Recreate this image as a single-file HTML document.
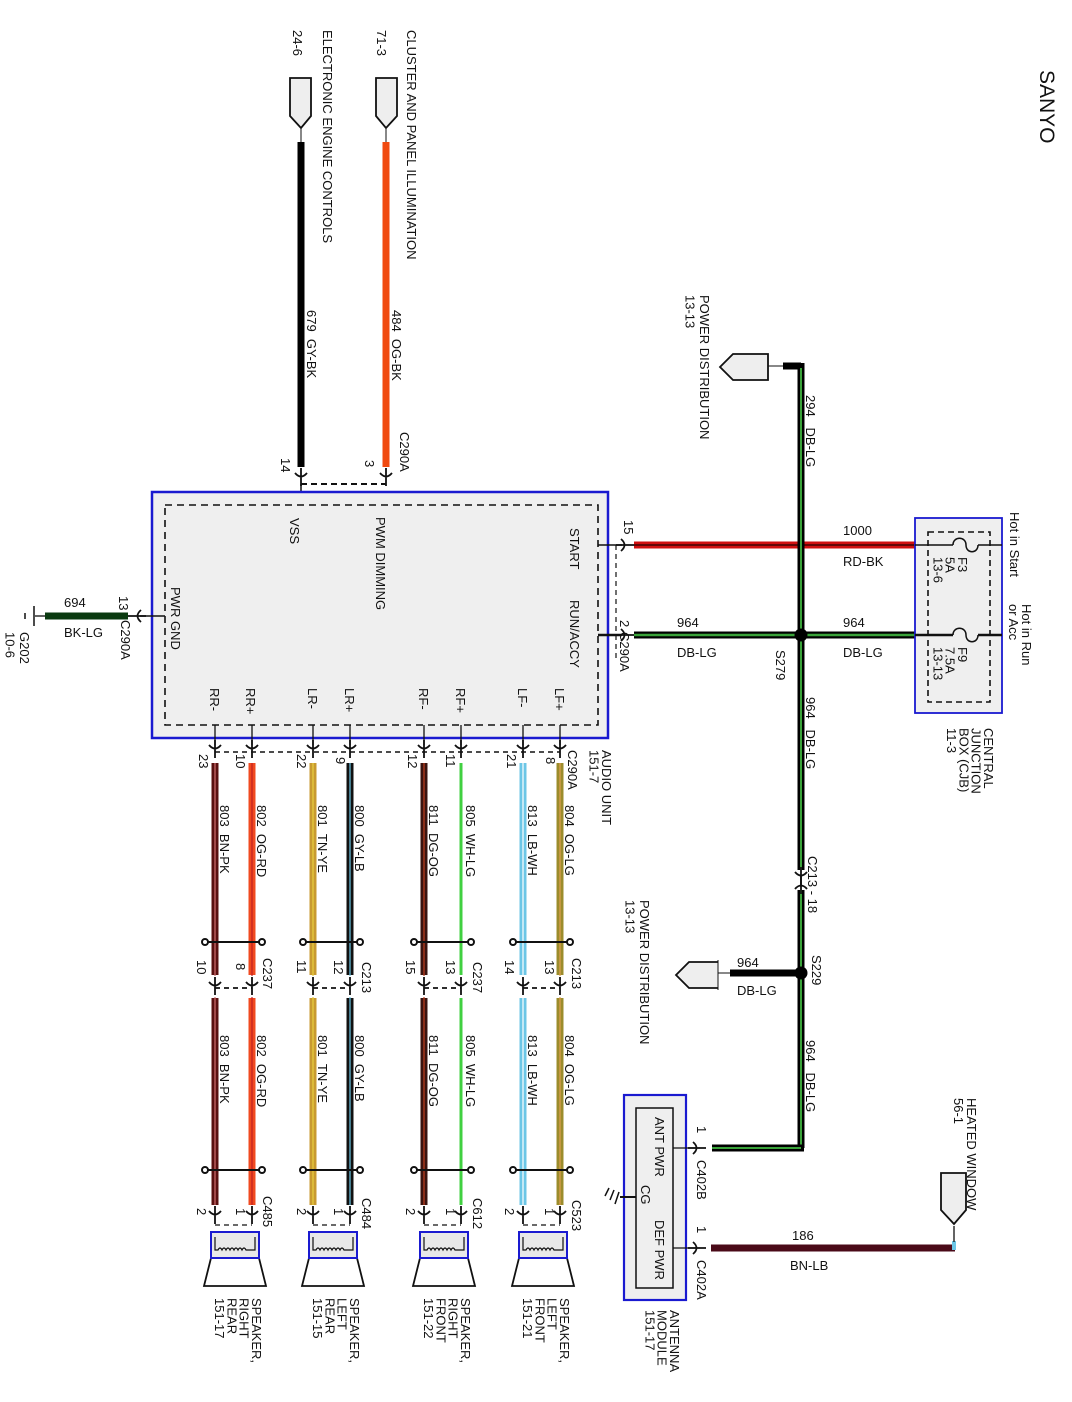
<!DOCTYPE html>
<html><head><meta charset="utf-8"><style>
html,body{margin:0;padding:0;background:#fff}
svg{display:block}
text{font-family:"Liberation Sans",sans-serif;font-size:13px;fill:#111}
</style></head><body>
<svg width="1072" height="1402" viewBox="0 0 1072 1402" xmlns="http://www.w3.org/2000/svg">
<defs>
<g id="cd"><path d="M-6,-5 Q0,2 6,-5 M0,-10 V8" stroke="#111" stroke-width="1.8" fill="none"/></g>
<g id="cr"><path d="M-5,-6 Q2,0 -5,6 M-10,0 H8" stroke="#111" stroke-width="1.8" fill="none"/></g>
<g id="cl"><path d="M5,-6 Q-2,0 5,6 M10,0 H-8" stroke="#111" stroke-width="1.8" fill="none"/></g>
</defs>

<text transform="translate(1040,70) rotate(90)" style="font-size:21px">SANYO</text>

<path d="M376,78 H397 V116 L386,128 L376,116 Z" fill="#eee" stroke="#111" stroke-width="1.8"/>
<path d="M290,78 H311 V116 L301,128 L290,116 Z" fill="#eee" stroke="#111" stroke-width="1.8"/>
<line x1="386" y1="128" x2="386" y2="142" stroke="#111"/>
<line x1="301" y1="128" x2="301" y2="142" stroke="#111"/>
<line x1="386" y1="142" x2="386" y2="467" stroke="#f04a10" stroke-width="7"/>
<line x1="301" y1="142" x2="301" y2="467" stroke="#000" stroke-width="7"/>
<text transform="translate(407,30) rotate(90)">CLUSTER AND PANEL ILLUMINATION</text>
<text transform="translate(377,30) rotate(90)">71-3</text>
<text transform="translate(323,30) rotate(90)">ELECTRONIC ENGINE CONTROLS</text>
<text transform="translate(293,30) rotate(90)">24-6</text>
<text transform="translate(392,310) rotate(90)">484&#160;&#160;OG-BK</text>
<text transform="translate(307,310) rotate(90)">679&#160;&#160;GY-BK</text>
<text transform="translate(400,432) rotate(90)">C290A</text>
<text transform="translate(365,460) rotate(90)">3</text>
<text transform="translate(281,458) rotate(90)">14</text>
<use href="#cd" x="386" y="478"/>
<use href="#cd" x="301" y="478"/>
<line x1="301" y1="484" x2="386" y2="484" stroke="#111" stroke-width="2" stroke-dasharray="6,4"/>
<line x1="301" y1="484" x2="301" y2="505" stroke="#111" stroke-width="1.5"/>

<rect x="152" y="492" width="456" height="246" fill="#efefef" stroke="#1a1ad0" stroke-width="2.5"/>
<rect x="165" y="505" width="433" height="220" fill="none" stroke="#111" stroke-width="1.6" stroke-dasharray="7,5"/>
<text transform="translate(570,528) rotate(90)">START</text>
<text transform="translate(570,600) rotate(90)">RUN/ACCY</text>
<text transform="translate(376,517) rotate(90)">PWM DIMMING</text>
<text transform="translate(290,518) rotate(90)">VSS</text>
<text transform="translate(171,587) rotate(90)">PWR GND</text>
<text transform="translate(555,688) rotate(90)">LF+</text>
<text transform="translate(518,688) rotate(90)">LF-</text>
<text transform="translate(456,688) rotate(90)">RF+</text>
<text transform="translate(419,688) rotate(90)">RF-</text>
<text transform="translate(345,688) rotate(90)">LR+</text>
<text transform="translate(308,688) rotate(90)">LR-</text>
<text transform="translate(246,688) rotate(90)">RR+</text>
<text transform="translate(210,688) rotate(90)">RR-</text>

<line x1="165" y1="616" x2="140" y2="616" stroke="#111" stroke-width="1.5"/>
<use href="#cl" x="136" y="616"/>
<line x1="128" y1="616" x2="45" y2="616" stroke="#0a3a10" stroke-width="7"/>
<line x1="45" y1="616" x2="35" y2="616" stroke="#111" stroke-width="1.3"/>
<line x1="34" y1="606" x2="34" y2="626" stroke="#111" stroke-width="1.5"/>
<line x1="25" y1="613" x2="25" y2="619" stroke="#111" stroke-width="1.5"/>
<text x="64" y="607">694</text>
<text x="64" y="637">BK-LG</text>
<text transform="translate(119,596) rotate(90)">13</text>
<text transform="translate(121,620) rotate(90)">C290A</text>
<text transform="translate(20,632) rotate(90)"><tspan x="0">G202</tspan><tspan x="0" dy="1.1em">10-6</tspan></text>

<line x1="598" y1="545" x2="622" y2="545" stroke="#111" stroke-width="1.5"/>
<use href="#cr" x="626" y="545"/>
<line x1="598" y1="635" x2="622" y2="635" stroke="#111" stroke-width="2.5"/>
<use href="#cr" x="626" y="635"/>
<line x1="616" y1="545" x2="616" y2="660" stroke="#111" stroke-width="1.2" stroke-dasharray="5,4"/>
<text transform="translate(624,520) rotate(90)">15</text>
<text transform="translate(620,620) rotate(90)">2</text>
<text transform="translate(620,632) rotate(90)">C290A</text>
<line x1="634" y1="545" x2="915" y2="545" stroke="#d01010" stroke-width="7"/>
<line x1="634" y1="545" x2="915" y2="545" stroke="#200" stroke-width="1.2"/>
<line x1="634" y1="635" x2="915" y2="635" stroke="#000" stroke-width="7"/>
<line x1="634" y1="635" x2="915" y2="635" stroke="#3aa33a" stroke-width="2.5"/>
<text x="843" y="535">1000</text>
<text x="843" y="566">RD-BK</text>
<text x="677" y="627">964</text>
<text x="677" y="657">DB-LG</text>
<text x="843" y="627">964</text>
<text x="843" y="657">DB-LG</text>

<line x1="783" y1="366" x2="801" y2="366" stroke="#000" stroke-width="7"/>
<line x1="801" y1="363" x2="801" y2="870" stroke="#000" stroke-width="7"/>
<line x1="801" y1="368" x2="801" y2="870" stroke="#3aa33a" stroke-width="2"/>
<line x1="801" y1="890" x2="801" y2="1148" stroke="#000" stroke-width="7"/>
<line x1="801" y1="890" x2="801" y2="1145" stroke="#3aa33a" stroke-width="2"/>
<line x1="804" y1="1148" x2="712" y2="1148" stroke="#000" stroke-width="7"/>
<line x1="801" y1="1148" x2="712" y2="1148" stroke="#3aa33a" stroke-width="2"/>
<path d="M768,354 L733,354 L720,367 L733,380 L768,380 Z" fill="#eee" stroke="#111" stroke-width="1.8"/>
<line x1="768" y1="366" x2="783" y2="366" stroke="#111"/>
<text transform="translate(700,295) rotate(90)"><tspan x="0">POWER DISTRIBUTION</tspan><tspan x="0" dy="1.1em">13-13</tspan></text>
<text transform="translate(806,395) rotate(90)">294&#160;&#160;&#160;DB-LG</text>
<circle cx="801" cy="635" r="6.5" fill="#000"/>
<text transform="translate(776,650) rotate(90)">S279</text>
<text transform="translate(806,697) rotate(90)">964&#160;&#160;&#160;DB-LG</text>
<use href="#cd" x="801" y="877"/>
<g transform="translate(801,884) rotate(180)"><use href="#cd"/></g>
<text transform="translate(808,856) rotate(90)">C213 - 18</text>
<circle cx="801" cy="973" r="6.5" fill="#000"/>
<line x1="801" y1="973" x2="730" y2="973" stroke="#000" stroke-width="7"/>
<line x1="730" y1="973" x2="718" y2="973" stroke="#111"/>
<path d="M718,962 L689,962 L676,975 L689,988 L718,988" fill="#eee" stroke="#111" stroke-width="1.8"/>
<line x1="718" y1="960" x2="718" y2="990" stroke="#111"/>
<text x="737" y="967">964</text>
<text x="737" y="995">DB-LG</text>
<text transform="translate(812,955) rotate(90)">S229</text>
<text transform="translate(640,900) rotate(90)"><tspan x="0">POWER DISTRIBUTION</tspan><tspan x="0" dy="1.1em">13-13</tspan></text>
<text transform="translate(806,1040) rotate(90)">964&#160;&#160;&#160;DB-LG</text>

<rect x="915" y="518" width="87" height="195" fill="#efefef" stroke="#1a1ad0" stroke-width="1.8"/>
<rect x="928" y="532" width="62" height="170" fill="none" stroke="#111" stroke-width="1.6" stroke-dasharray="6,4"/>
<line x1="915" y1="545" x2="953" y2="545" stroke="#111" stroke-width="1.5"/>
<path d="M953,545 C953,536 966,536 966,545 C966,554 978,554 978,545" stroke="#111" stroke-width="1.5" fill="none"/>
<line x1="978" y1="545" x2="1002" y2="545" stroke="#111" stroke-width="1.5"/>
<line x1="915" y1="635" x2="953" y2="635" stroke="#111" stroke-width="2.5"/>
<path d="M953,635 C953,626 966,626 966,635 C966,644 978,644 978,635" stroke="#111" stroke-width="1.5" fill="none"/>
<line x1="978" y1="635" x2="1002" y2="635" stroke="#111" stroke-width="2.5"/>
<text transform="translate(958,557) rotate(90)"><tspan x="0">F3</tspan><tspan x="0" dy="0.95em">5A</tspan><tspan x="0" dy="0.95em">13-6</tspan></text>
<text transform="translate(958,647) rotate(90)"><tspan x="0">F9</tspan><tspan x="0" dy="0.95em">7.5A</tspan><tspan x="0" dy="0.95em">13-13</tspan></text>
<text transform="translate(1010,512) rotate(90)">Hot in Start</text>
<text transform="translate(1022,604) rotate(90)"><tspan x="0">Hot in Run</tspan><tspan x="0" dy="1.0em">or Acc</tspan></text>
<text transform="translate(984,728) rotate(90)"><tspan x="0">CENTRAL</tspan><tspan x="0" dy="0.95em">JUNCTION</tspan><tspan x="0" dy="0.95em">BOX (CJB)</tspan><tspan x="0" dy="0.95em">11-3</tspan></text>

<rect x="624" y="1095" width="62" height="205" fill="#efefef" stroke="#1a1ad0" stroke-width="2.2"/>
<rect x="636" y="1108" width="37" height="180" fill="#efefef" stroke="#111" stroke-width="1.5"/>
<text transform="translate(655,1117) rotate(90)">ANT PWR</text>
<text transform="translate(641,1185) rotate(90)">CG</text>
<text transform="translate(655,1220) rotate(90)">DEF PWR</text>
<line x1="673" y1="1148" x2="700" y2="1148" stroke="#111" stroke-width="1.3"/>
<use href="#cr" x="698" y="1148"/>
<line x1="673" y1="1248" x2="700" y2="1248" stroke="#111" stroke-width="1.3"/>
<use href="#cr" x="698" y="1248"/>
<line x1="636" y1="1197" x2="620" y2="1197" stroke="#111" stroke-width="2"/>
<path d="M609,1188 L605,1196 M614,1190 L610,1200 M619,1192 L615,1204" stroke="#111" stroke-width="1.5"/>
<text transform="translate(697,1126) rotate(90)">1</text>
<text transform="translate(697,1160) rotate(90)">C402B</text>
<text transform="translate(697,1226) rotate(90)">1</text>
<text transform="translate(697,1260) rotate(90)">C402A</text>
<text transform="translate(670,1310) rotate(90)"><tspan x="0">ANTENNA</tspan><tspan x="0" dy="0.95em">MODULE</tspan><tspan x="0" dy="0.95em">151-17</tspan></text>
<line x1="711" y1="1248" x2="955" y2="1248" stroke="#4a0a18" stroke-width="7"/>
<rect x="952" y="1241" width="4" height="9" fill="#6cc6e6"/>
<line x1="954" y1="1226" x2="954" y2="1242" stroke="#111" stroke-width="1.3"/>
<path d="M941,1173 H966 V1210 L954,1224 L941,1210 Z" fill="#eee" stroke="#111" stroke-width="1.8"/>
<text x="792" y="1240">186</text>
<text x="790" y="1270">BN-LB</text>
<text transform="translate(967,1098) rotate(90)"><tspan x="0">HEATED WINDOW</tspan><tspan x="0" dy="1.0em">56-1</tspan></text>

<text transform="translate(602,750) rotate(90)"><tspan x="0">AUDIO UNIT</tspan><tspan x="0" dy="0.95em">151-7</tspan></text>
<text transform="translate(568,750) rotate(90)">C290A</text>

<line x1="215" y1="752" x2="560" y2="752" stroke="#111" stroke-width="1.5" stroke-dasharray="5,4"/>
<g stroke-width="7" fill="none">
<line x1="560" y1="763" x2="560" y2="975" stroke="#9c8c2c"/>
<line x1="523" y1="763" x2="523" y2="975" stroke="#6cc6e6"/>
<line x1="461" y1="763" x2="461" y2="975" stroke="#40d040" stroke-width="3"/>
<line x1="424" y1="763" x2="424" y2="975" stroke="#3a1410"/>
<line x1="350" y1="763" x2="350" y2="975" stroke="#111"/>
<line x1="313" y1="763" x2="313" y2="975" stroke="#c89a30"/>
<line x1="252" y1="763" x2="252" y2="975" stroke="#f04a20"/>
<line x1="215" y1="763" x2="215" y2="975" stroke="#5a1010"/>
<line x1="560" y1="998" x2="560" y2="1205" stroke="#9c8c2c"/>
<line x1="523" y1="998" x2="523" y2="1205" stroke="#6cc6e6"/>
<line x1="461" y1="998" x2="461" y2="1205" stroke="#40d040" stroke-width="3"/>
<line x1="424" y1="998" x2="424" y2="1205" stroke="#3a1410"/>
<line x1="350" y1="998" x2="350" y2="1205" stroke="#111"/>
<line x1="313" y1="998" x2="313" y2="1205" stroke="#c89a30"/>
<line x1="252" y1="998" x2="252" y2="1205" stroke="#f04a20"/>
<line x1="215" y1="998" x2="215" y2="1205" stroke="#5a1010"/>
</g>
<g stroke-width="1.2" fill="none">
<line x1="560" y1="763" x2="560" y2="1205" stroke="#e0a050"/>
<line x1="523" y1="763" x2="523" y2="1205" stroke="#fff"/>
<line x1="424" y1="763" x2="424" y2="1205" stroke="#c04020"/>
<line x1="350" y1="763" x2="350" y2="1205" stroke="#6cc6e6"/>
<line x1="313" y1="763" x2="313" y2="1205" stroke="#e8d040"/>
<line x1="252" y1="763" x2="252" y2="1205" stroke="#c02020"/>
<line x1="215" y1="763" x2="215" y2="1205" stroke="#d07070"/>
</g>
<rect x="200" y="976" width="380" height="21" fill="#fff"/>

<g stroke="#111" stroke-width="1.3">
<line x1="560" y1="725" x2="560" y2="745"/><line x1="523" y1="725" x2="523" y2="745"/>
<line x1="461" y1="725" x2="461" y2="745"/><line x1="424" y1="725" x2="424" y2="745"/>
<line x1="350" y1="725" x2="350" y2="745"/><line x1="313" y1="725" x2="313" y2="745"/>
<line x1="252" y1="725" x2="252" y2="745"/><line x1="215" y1="725" x2="215" y2="745"/>
</g>
<g>
<use href="#cd" x="560" y="750"/><use href="#cd" x="523" y="750"/><use href="#cd" x="461" y="750"/><use href="#cd" x="424" y="750"/>
<use href="#cd" x="350" y="750"/><use href="#cd" x="313" y="750"/><use href="#cd" x="252" y="750"/><use href="#cd" x="215" y="750"/>
</g>
<text transform="translate(546,757) rotate(90)">8</text>
<text transform="translate(507,754) rotate(90)">21</text>
<text transform="translate(446,754) rotate(90)">11</text>
<text transform="translate(408,754) rotate(90)">12</text>
<text transform="translate(336,757) rotate(90)">9</text>
<text transform="translate(297,754) rotate(90)">22</text>
<text transform="translate(236,754) rotate(90)">10</text>
<text transform="translate(199,754) rotate(90)">23</text>

<text transform="translate(565,805) rotate(90)">804&#160;&#160;OG-LG</text>
<text transform="translate(528,805) rotate(90)">813&#160;&#160;LB-WH</text>
<text transform="translate(466,805) rotate(90)">805&#160;&#160;WH-LG</text>
<text transform="translate(429,805) rotate(90)">811&#160;&#160;DG-OG</text>
<text transform="translate(355,805) rotate(90)">800&#160;&#160;GY-LB</text>
<text transform="translate(318,805) rotate(90)">801&#160;&#160;TN-YE</text>
<text transform="translate(257,805) rotate(90)">802&#160;&#160;OG-RD</text>
<text transform="translate(220,805) rotate(90)">803&#160;&#160;BN-PK</text>
<text transform="translate(565,1035) rotate(90)">804&#160;&#160;OG-LG</text>
<text transform="translate(528,1035) rotate(90)">813&#160;&#160;LB-WH</text>
<text transform="translate(466,1035) rotate(90)">805&#160;&#160;WH-LG</text>
<text transform="translate(429,1035) rotate(90)">811&#160;&#160;DG-OG</text>
<text transform="translate(355,1035) rotate(90)">800&#160;&#160;GY-LB</text>
<text transform="translate(318,1035) rotate(90)">801&#160;&#160;TN-YE</text>
<text transform="translate(257,1035) rotate(90)">802&#160;&#160;OG-RD</text>
<text transform="translate(220,1035) rotate(90)">803&#160;&#160;BN-PK</text>

<g stroke="#111" stroke-width="2" fill="#fff">
<line x1="515" y1="942" x2="568" y2="942"/><circle cx="513" cy="942" r="3"/><circle cx="570" cy="942" r="3"/>
<line x1="416" y1="942" x2="469" y2="942"/><circle cx="414" cy="942" r="3"/><circle cx="471" cy="942" r="3"/>
<line x1="305" y1="942" x2="358" y2="942"/><circle cx="303" cy="942" r="3"/><circle cx="360" cy="942" r="3"/>
<line x1="207" y1="942" x2="260" y2="942"/><circle cx="205" cy="942" r="3"/><circle cx="262" cy="942" r="3"/>
<line x1="515" y1="1170" x2="568" y2="1170"/><circle cx="513" cy="1170" r="3"/><circle cx="570" cy="1170" r="3"/>
<line x1="416" y1="1170" x2="469" y2="1170"/><circle cx="414" cy="1170" r="3"/><circle cx="471" cy="1170" r="3"/>
<line x1="305" y1="1170" x2="358" y2="1170"/><circle cx="303" cy="1170" r="3"/><circle cx="360" cy="1170" r="3"/>
<line x1="207" y1="1170" x2="260" y2="1170"/><circle cx="205" cy="1170" r="3"/><circle cx="262" cy="1170" r="3"/>
</g>

<g>
<use href="#cd" x="560" y="987"/><use href="#cd" x="523" y="987"/><use href="#cd" x="461" y="987"/><use href="#cd" x="424" y="987"/>
<use href="#cd" x="350" y="987"/><use href="#cd" x="313" y="987"/><use href="#cd" x="252" y="987"/><use href="#cd" x="215" y="987"/>
</g>
<g stroke="#111" stroke-width="1.8" stroke-dasharray="5,4">
<line x1="523" y1="988" x2="560" y2="988"/><line x1="424" y1="988" x2="461" y2="988"/>
<line x1="313" y1="988" x2="350" y2="988"/><line x1="215" y1="988" x2="252" y2="988"/>
</g>
<text transform="translate(572,958) rotate(90)">C213</text>
<text transform="translate(545,960) rotate(90)">13</text>
<text transform="translate(505,960) rotate(90)">14</text>
<text transform="translate(473,962) rotate(90)">C237</text>
<text transform="translate(446,960) rotate(90)">13</text>
<text transform="translate(406,960) rotate(90)">15</text>
<text transform="translate(362,962) rotate(90)">C213</text>
<text transform="translate(334,960) rotate(90)">12</text>
<text transform="translate(297,960) rotate(90)">11</text>
<text transform="translate(263,958) rotate(90)">C237</text>
<text transform="translate(236,963) rotate(90)">8</text>
<text transform="translate(197,960) rotate(90)">10</text>

<g>
<use href="#cd" x="560" y="1216"/><use href="#cd" x="523" y="1216"/><use href="#cd" x="461" y="1216"/><use href="#cd" x="424" y="1216"/>
<use href="#cd" x="350" y="1216"/><use href="#cd" x="313" y="1216"/><use href="#cd" x="252" y="1216"/><use href="#cd" x="215" y="1216"/>
</g>
<g stroke="#111" stroke-width="1.3" stroke-dasharray="5,4">
<line x1="523" y1="1225" x2="560" y2="1225"/><line x1="424" y1="1225" x2="461" y2="1225"/>
<line x1="313" y1="1225" x2="350" y2="1225"/><line x1="215" y1="1225" x2="252" y2="1225"/>
</g>
<text transform="translate(572,1200) rotate(90)">C523</text>
<text transform="translate(545,1208) rotate(90)">1</text>
<text transform="translate(505,1208) rotate(90)">2</text>
<text transform="translate(473,1198) rotate(90)">C612</text>
<text transform="translate(446,1208) rotate(90)">1</text>
<text transform="translate(406,1208) rotate(90)">2</text>
<text transform="translate(362,1198) rotate(90)">C484</text>
<text transform="translate(334,1208) rotate(90)">1</text>
<text transform="translate(297,1208) rotate(90)">2</text>
<text transform="translate(263,1196) rotate(90)">C485</text>
<text transform="translate(236,1208) rotate(90)">1</text>
<text transform="translate(197,1208) rotate(90)">2</text>

<g id="spk">
<path d="M519,1258 L567,1258 L574,1286 L512,1286 Z" fill="#fff" stroke="#111" stroke-width="1.8"/>
<rect x="519" y="1232" width="48" height="26" fill="#e8e8e8" stroke="#1a1ad0" stroke-width="2"/>
<path d="M523,1237 V1250 H526 q2,-4 4,0 q2,-4 4,0 q2,-4 4,0 q2,-4 4,0 q2,-4 4,0 q2,-4 4,0 q2,-4 4,0 H563 V1237" fill="none" stroke="#111" stroke-width="1.2"/>
</g>
<use href="#spk" x="-99"/>
<use href="#spk" x="-210"/>
<use href="#spk" x="-308"/>
<text transform="translate(560,1298) rotate(90)"><tspan x="0">SPEAKER,</tspan><tspan x="0" dy="0.95em">LEFT</tspan><tspan x="0" dy="0.95em">FRONT</tspan><tspan x="0" dy="0.95em">151-21</tspan></text>
<text transform="translate(461,1298) rotate(90)"><tspan x="0">SPEAKER,</tspan><tspan x="0" dy="0.95em">RIGHT</tspan><tspan x="0" dy="0.95em">FRONT</tspan><tspan x="0" dy="0.95em">151-22</tspan></text>
<text transform="translate(350,1298) rotate(90)"><tspan x="0">SPEAKER,</tspan><tspan x="0" dy="0.95em">LEFT</tspan><tspan x="0" dy="0.95em">REAR</tspan><tspan x="0" dy="0.95em">151-15</tspan></text>
<text transform="translate(252,1298) rotate(90)"><tspan x="0">SPEAKER,</tspan><tspan x="0" dy="0.95em">RIGHT</tspan><tspan x="0" dy="0.95em">REAR</tspan><tspan x="0" dy="0.95em">151-17</tspan></text>
</svg>
</body></html>
